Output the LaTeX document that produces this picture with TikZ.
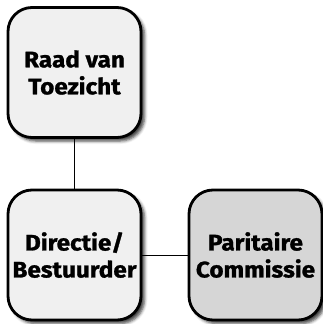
\documentclass[tikz,border=0pt]{standalone}
\usepackage{fontspec}
\setmainfont{Fira Sans}[BoldFeatures={FakeStretch=1.08,FakeBold=1.2}]
\usetikzlibrary{shadows.blur,positioning}
\definecolor{boxlight}{HTML}{F0F0F0}
\definecolor{boxdark}{HTML}{D6D6D6}
\tikzset{
  basic/.style  = {draw, line width=2.8pt, rounded corners=24pt, align=center,
                   minimum width=133pt, minimum height=130pt, inner sep=0pt,
                   font=\fontsize{22.5}{27}\selectfont\bfseries,
                   blur shadow={shadow xshift=3.5pt, shadow yshift=-3.5pt,
                                shadow blur radius=3pt, shadow opacity=75}},
  board/.style  = {basic, fill=boxlight},
  partner/.style = {basic, fill=boxdark}
}

\begin{document}
\begin{tikzpicture}[line width=0.9pt]
\useasboundingbox (0,0) rectangle (323pt,-324pt);

% toezicht bovenaan
\node[board] (raad) at (74.5pt,-72.5pt) {Raad van\\Toezicht};
% directie en commissie eronder
\node[board, below of = raad, node distance=182.5pt] (dir) {Directie/\\Bestuurder};
\node[partner, right of = dir, node distance=181pt] (pc) {Paritaire\\Commissie};

\draw (raad) -- (dir);
\draw (dir) -- (pc);

\end{tikzpicture}
\end{document}
